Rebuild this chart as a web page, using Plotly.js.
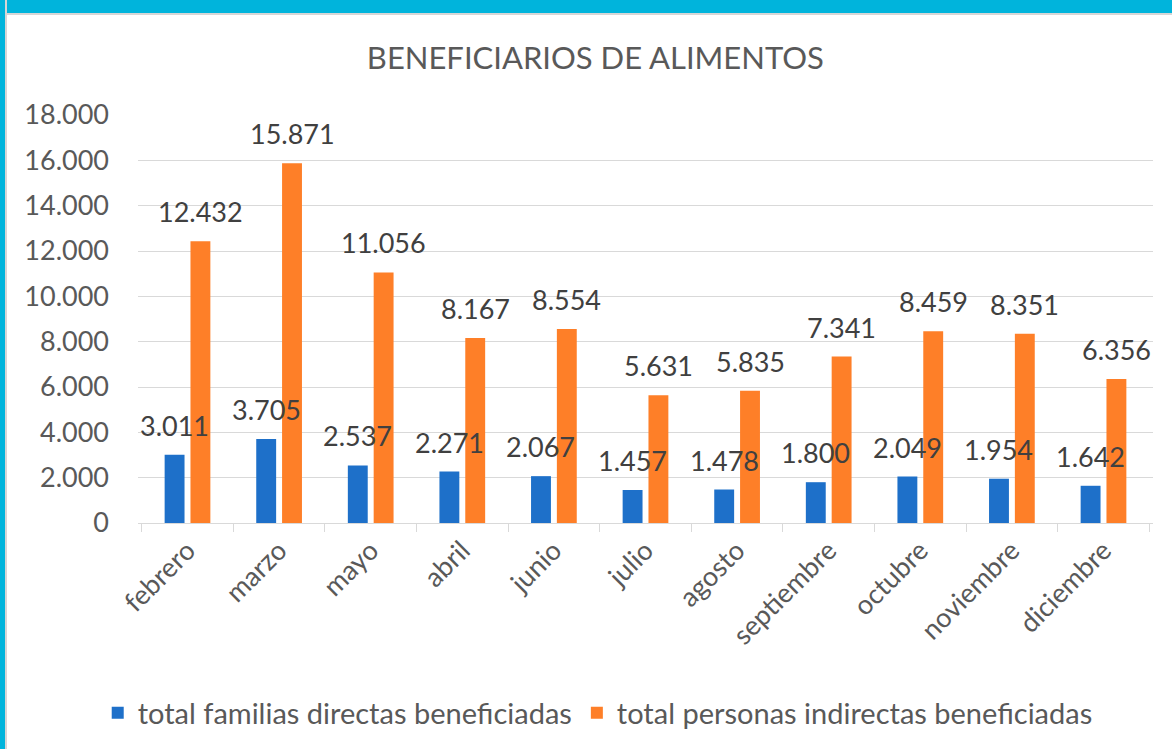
<!DOCTYPE html>
<html>
<head>
<meta charset="utf-8">
<script src="https://cdn.plot.ly/plotly-3.0.1.min.js"></script>
<style>
  html, body { margin: 0; padding: 0; background: #ffffff; }
  #wrap { position: relative; width: 1172px; height: 749px; overflow: hidden; background: #fff; }
  #chart { position: absolute; left: 0; top: 0; width: 1172px; height: 749px; }
  #topband { position: absolute; left: 0; top: 0; width: 1172px; height: 13px; background: #00b4dc; border-bottom: 2px solid #d6d6d6; }
  #leftband { position: absolute; left: 0; top: 0; width: 5px; height: 749px; background: #00b4dc; border-right: 2px solid #d6d6d6; }
</style>
</head>
<body>
<div id="wrap">
  <div id="chart"></div>
  <div id="topband"></div>
  <div id="leftband"></div>
</div>
<script>
const months = ["febrero", "marzo", "mayo", "abril", "junio", "julio", "agosto", "septiembre", "octubre", "noviembre", "diciembre"];
const familiasDirectas = [3011, 3705, 2537, 2271, 2067, 1457, 1478, 1800, 2049, 1954, 1642];
const personasIndirectas = [12432, 15871, 11056, 8167, 8554, 5631, 5835, 7341, 8459, 8351, 6356];
const seriesNames = ["total familias directas beneficiadas", "total personas indirectas beneficiadas"];
const yTickValues = [0, 2000, 4000, 6000, 8000, 10000, 12000, 14000, 16000, 18000];

const FONT = "Lato, 'Open Sans', sans-serif";
const BLUE = "#1e70c9";
const ORANGE = "#fe7f28";

function fmt(v) {
  return String(v).replace(/\B(?=(\d{3})+(?!\d))/g, ".");
}

const traces = [
  { type: "bar", name: seriesNames[0], x: months, y: familiasDirectas, marker: { color: BLUE }, hoverinfo: "none" },
  { type: "bar", name: seriesNames[1], x: months, y: personasIndirectas, marker: { color: ORANGE }, hoverinfo: "none" }
];

const annotations = [];
const seriesData = [familiasDirectas, personasIndirectas];
const shifts = [-13, 13];
seriesData.forEach(function (arr, s) {
  arr.forEach(function (v, i) {
    annotations.push({
      x: months[i], y: v, xref: "x", yref: "y",
      text: fmt(v), showarrow: false,
      xanchor: "center", yanchor: "bottom",
      xshift: shifts[s], yshift: 11,
      font: { family: FONT, size: 27, color: "#404040" }
    });
  });
});

const layout = {
  width: 1172, height: 749,
  margin: { l: 138, r: 19, t: 115, b: 226 },
  paper_bgcolor: "#ffffff", plot_bgcolor: "#ffffff",
  separators: ",.",
  font: { family: FONT, color: "#595959" },
  title: {
    text: "BENEFICIARIOS DE ALIMENTOS",
    font: { family: FONT, size: 31, color: "#595959" },
    xref: "container", x: 0.508, xanchor: "center",
    yref: "container", y: 1 - 58 / 749, yanchor: "middle"
  },
  barmode: "group",
  bargap: 0.436,
  bargroupgap: 0.23,
  xaxis: {
    type: "category",
    tickangle: -45,
    tickfont: { family: FONT, size: 27, color: "#595959" },
    showline: true, linecolor: "#d9d9d9", linewidth: 1,
    ticks: "outside", tickson: "boundaries", ticklen: 8, tickcolor: "#d9d9d9",
    showgrid: false, zeroline: false
  },
  yaxis: {
    range: [0, 18000],
    tickvals: yTickValues,
    ticktext: yTickValues.map(fmt),
    tickfont: { family: FONT, size: 27, color: "#595959" },
    showgrid: true, gridcolor: "#d9d9d9", gridwidth: 1,
    zeroline: false, showline: false, ticks: "",
    ticklabelstandoff: 28
  },
  showlegend: true,
  legend: {
    orientation: "h",
    xref: "container", x: 0.51, xanchor: "center",
    yref: "container", y: 1 - 713 / 749, yanchor: "middle",
    font: { family: FONT, size: 29, color: "#595959" },
    itemsizing: "constant"
  },
  annotations: annotations
};

Plotly.newPlot("chart", traces, layout, { staticPlot: true, displayModeBar: false });
</script>
</body>
</html>
